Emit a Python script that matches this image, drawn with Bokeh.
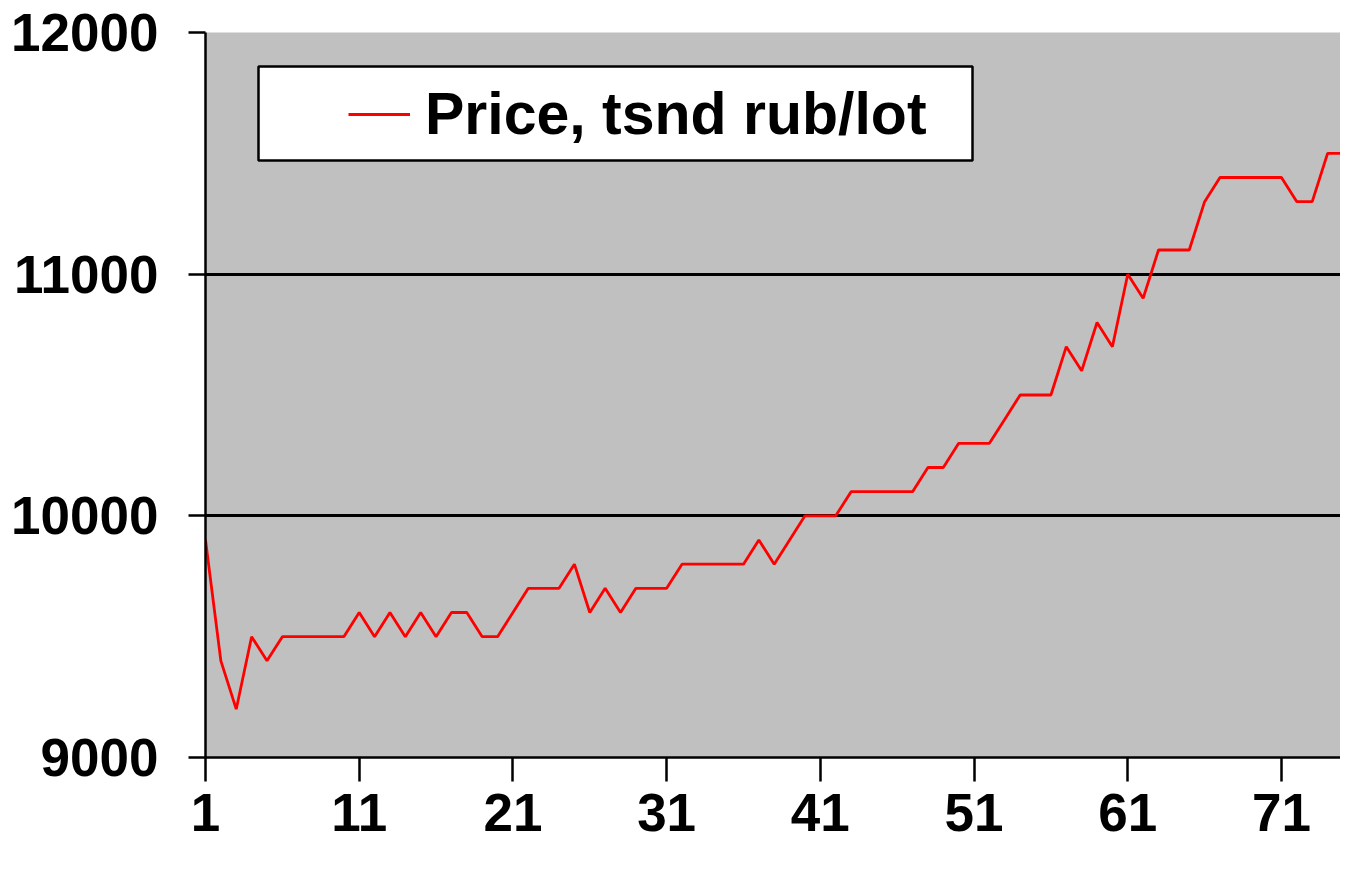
from bokeh.plotting import figure
from bokeh.models import FixedTicker, Legend, LegendItem, BoxAnnotation, Range1d, ColumnDataSource
from bokeh.embed import file_html
from bokeh.resources import INLINE

# ---- data ----
periods = list(range(1, 77))
price = [9900, 9400, 9200, 9500, 9400, 9500, 9500, 9500, 9500, 9500,
         9600, 9500, 9600, 9500, 9600, 9500, 9600, 9600, 9500, 9500,
         9600, 9700, 9700, 9700, 9800, 9600, 9700, 9600, 9700, 9700,
         9700, 9800, 9800, 9800, 9800, 9800, 9900, 9800, 9900, 10000,
         10000, 10000, 10100, 10100, 10100, 10100, 10100, 10200, 10200, 10300,
         10300, 10300, 10400, 10500, 10500, 10500, 10700, 10600, 10800, 10700,
         11000, 10900, 11100, 11100, 11100, 11300, 11400, 11400, 11400, 11400,
         11400, 11300, 11300, 11500, 11500, 11400]
x_ticks = [1, 11, 21, 31, 41, 51, 61, 71]
y_ticks = [9000, 10000, 11000, 12000]
series_label = "Price, tsnd rub/lot"

FONT = "Liberation Sans"

source = ColumnDataSource(data=dict(period=periods, price=price))

p = figure(width=1340, height=854,
           x_range=Range1d(1, 74.84), y_range=Range1d(9000, 12000),
           output_backend="svg", toolbar_location=None,
           min_border_left=205, min_border_top=32, min_border_right=0,
           min_border_bottom=97,
           background_fill_color="#C0C0C0", border_fill_color="white",
           outline_line_color=None)

r = p.line("period", "price", source=source, line_color="#FF0000", line_width=2.8)

# axes
p.xaxis.ticker = FixedTicker(ticks=x_ticks)
p.yaxis.ticker = FixedTicker(ticks=y_ticks)
for ax in (p.xaxis[0], p.yaxis[0]):
    ax.axis_line_color = "black"
    ax.axis_line_width = 2.5
    ax.major_tick_line_color = "black"
    ax.major_tick_line_width = 2.5
    ax.major_tick_in = 0
    ax.minor_tick_line_color = None
    ax.major_label_text_font = FONT
    ax.major_label_text_font_style = "bold"
    ax.major_label_text_font_size = "53px"
    ax.major_label_text_color = "black"
p.yaxis.major_tick_out = 17
p.yaxis.major_label_standoff = 30
p.xaxis.major_tick_out = 24
p.xaxis.major_label_standoff = 12

# grid
p.xgrid.grid_line_color = None
p.ygrid.grid_line_color = "black"
p.ygrid.grid_line_width = 3

# legend box
box = BoxAnnotation(left=53, right=767, top=691, bottom=597,
                    left_units="screen", right_units="screen",
                    top_units="screen", bottom_units="screen",
                    fill_color="white", fill_alpha=1.0,
                    line_color="black", line_alpha=1.0, line_width=2.5)
p.add_layout(box)

legend = Legend(items=[LegendItem(label=series_label, renderers=[r])],
                location=(143, 609), padding=0, margin=0,
                glyph_width=62, glyph_height=62, label_height=62,
                label_standoff=15,
                label_text_font=FONT, label_text_font_style="bold",
                label_text_font_size="59px", label_text_color="black",
                border_line_alpha=0, background_fill_alpha=0)
p.add_layout(legend, "center")

open("out.html", "w").write(file_html(p, INLINE))
